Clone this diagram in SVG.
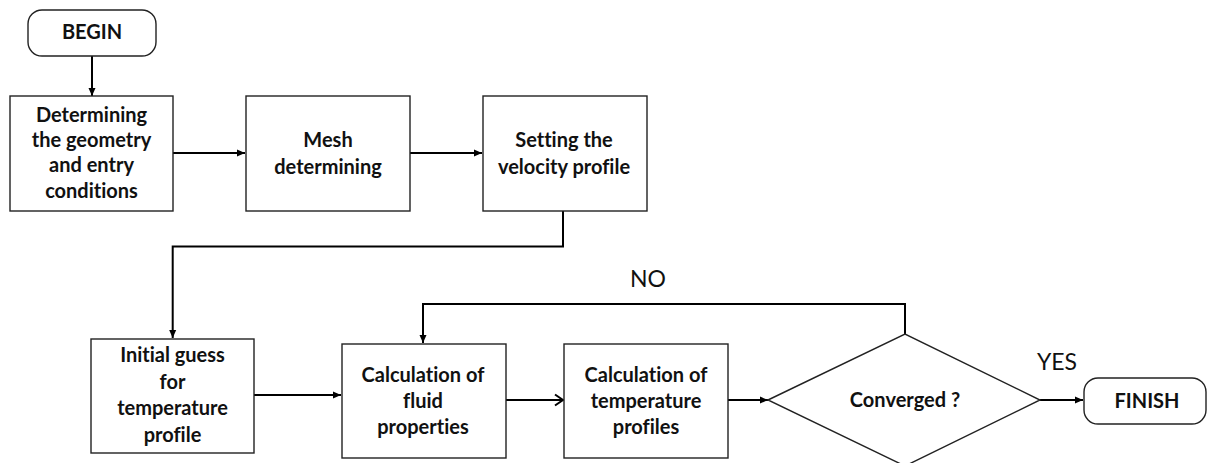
<svg xmlns="http://www.w3.org/2000/svg" width="1208" height="463" viewBox="0 0 1208 463">
<style>
.box{fill:#fff;stroke:#222;stroke-width:1.4}
.t{font-family:Lato,"Open Sans",sans-serif;font-weight:bold;font-size:20px;fill:#111;text-anchor:middle;font-variant-ligatures:none}
.lbl{font-family:Lato,"Open Sans",sans-serif;font-size:23px;fill:#111;text-anchor:middle}
.c{fill:none;stroke:#000;stroke-width:2}
</style>
<defs>
<marker id="ah" markerUnits="userSpaceOnUse" markerWidth="10" markerHeight="10" refX="9" refY="5" orient="auto">
<path d="M1,1.5 L9,5 L1,8.5 Z" fill="#000"/>
</marker>
<marker id="oh" markerUnits="userSpaceOnUse" markerWidth="12" markerHeight="14" refX="10" refY="7" orient="auto">
<path d="M2,1.5 L10,7 L2,12.5" fill="none" stroke="#000" stroke-width="2"/>
</marker>
</defs>
<rect width="1208" height="463" fill="#fff"/>
<g id="connectors">
<path class="c" d="M92,56 V96" marker-end="url(#ah)"/>
<path class="c" d="M173,153 H245" marker-end="url(#ah)"/>
<path class="c" d="M410,153 H482" marker-end="url(#ah)"/>
<path class="c" d="M563,211 V246.5 H172.7 V338" marker-end="url(#ah)"/>
<path class="c" d="M254,395 H341" marker-end="url(#ah)"/>
<path class="c" d="M905,334 V304 H423 V343" marker-end="url(#ah)"/>
<path class="c" d="M506,400 H563" marker-end="url(#oh)"/>
<path class="c" d="M728,400 H768" marker-end="url(#ah)"/>
<path class="c" d="M1040,400 H1083" marker-end="url(#ah)"/>
<text class="lbl" x="648" y="287">NO</text>
<text class="lbl" x="1057" y="370">YES</text>
</g>
<g id="begin">
<rect class="box" x="28" y="10" width="128" height="46" rx="14"/>
<text class="t" x="92" y="39" font-size="18">BEGIN</text>
</g>
<g id="geometry">
<rect class="box" x="10" y="96" width="163" height="115"/>
<text class="t" x="91.5" y="122">Determining</text>
<text class="t" x="91.5" y="147">the geometry</text>
<text class="t" x="91.5" y="172">and entry</text>
<text class="t" x="91.5" y="198">conditions</text>
</g>
<g id="mesh">
<rect class="box" x="246" y="96" width="164" height="115"/>
<text class="t" x="328" y="147">Mesh</text>
<text class="t" x="328" y="174">determining</text>
</g>
<g id="velocity">
<rect class="box" x="483" y="96" width="164" height="115"/>
<text class="t" x="564" y="147">Setting the</text>
<text class="t" x="564" y="174">velocity profile</text>
</g>
<g id="initial">
<rect class="box" x="91" y="339" width="163" height="114"/>
<text class="t" x="172.5" y="362">Initial guess</text>
<text class="t" x="172.5" y="389">for</text>
<text class="t" x="172.5" y="415">temperature</text>
<text class="t" x="172.5" y="442">profile</text>
</g>
<g id="fluid">
<rect class="box" x="342" y="344" width="164" height="114"/>
<text class="t" x="423" y="382">Calculation of</text>
<text class="t" x="423" y="408">fluid</text>
<text class="t" x="423" y="434">properties</text>
</g>
<g id="temperature">
<rect class="box" x="564" y="344" width="164" height="114"/>
<text class="t" x="646" y="382">Calculation of</text>
<text class="t" x="646" y="408">temperature</text>
<text class="t" x="646" y="434">profiles</text>
</g>
<g id="converged">
<polygon class="box" points="768,400 905,334 1040,400 905,466"/>
<text class="t" x="905" y="407">Converged ?</text>
</g>
<g id="finish">
<rect class="box" x="1084" y="378" width="122" height="46" rx="14"/>
<text class="t" x="1147" y="408" font-size="18">FINISH</text>
</g>
</svg>
